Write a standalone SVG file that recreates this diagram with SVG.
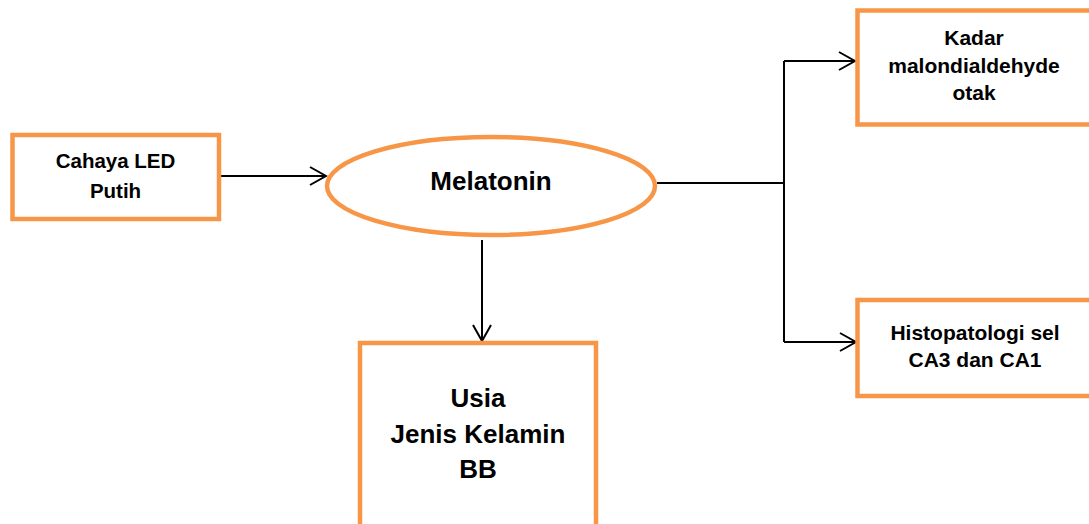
<svg xmlns="http://www.w3.org/2000/svg" width="1089" height="524" viewBox="0 0 1089 524">
<style>
.box{fill:#fff;stroke:#F79646;stroke-width:4.5}
.t{font-family:"Liberation Sans",Arial,sans-serif;font-weight:bold;fill:#000;text-anchor:middle}
.c{fill:none;stroke:#000;stroke-width:2}
</style>
<defs>
<marker id="ah" viewBox="0 0 20 20" refX="18" refY="10" markerWidth="20" markerHeight="20" markerUnits="userSpaceOnUse" orient="auto">
<path d="M2,1 L18,10 L2,19" fill="none" stroke="#000" stroke-width="2"/>
</marker>
</defs>
<rect width="1089" height="524" fill="#fff"/>
<g id="connectors">
<path class="c" d="M221,176 H326" marker-end="url(#ah)"/>
<path class="c" d="M482,240 V341" marker-end="url(#ah)"/>
<path class="c" d="M657,183 H784"/>
<path class="c" d="M784,61 V342"/>
<path class="c" d="M784,61 H855" marker-end="url(#ah)"/>
<path class="c" d="M784,342 H856" marker-end="url(#ah)"/>
</g>
<g id="cahaya">
<rect class="box" x="12.5" y="135" width="206.5" height="84"/>
<text class="t" x="115.5" y="168" font-size="20.5">Cahaya LED</text>
<text class="t" x="115.5" y="198" font-size="20.5">Putih</text>
</g>
<g id="melatonin">
<ellipse class="box" cx="491" cy="186" rx="164" ry="49"/>
<text class="t" x="491" y="190" font-size="26">Melatonin</text>
</g>
<g id="usia">
<rect class="box" x="360" y="343" width="236" height="200"/>
<text class="t" x="478" y="407" font-size="26">Usia</text>
<text class="t" x="478" y="443" font-size="26">Jenis Kelamin</text>
<text class="t" x="478" y="478" font-size="26">BB</text>
</g>
<g id="kadar">
<rect class="box" x="857.5" y="10.5" width="240" height="114"/>
<text class="t" x="974" y="45" font-size="21">Kadar</text>
<text class="t" x="974" y="72.5" font-size="21">malondialdehyde</text>
<text class="t" x="974" y="100" font-size="21">otak</text>
</g>
<g id="histo">
<rect class="box" x="857.5" y="300" width="240" height="96"/>
<text class="t" x="975" y="340" font-size="21">Histopatologi sel</text>
<text class="t" x="975" y="367" font-size="21">CA3 dan CA1</text>
</g>
</svg>
